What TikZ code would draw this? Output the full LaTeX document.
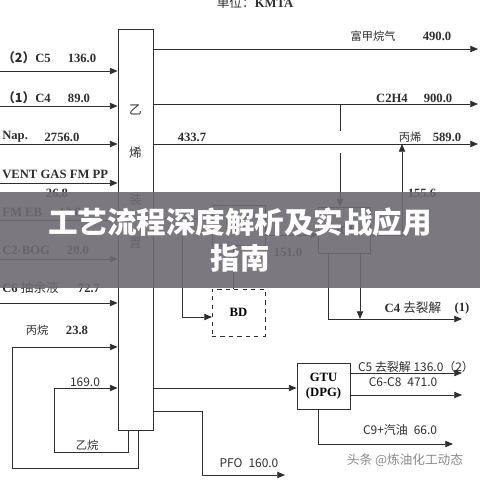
\documentclass[tikz,border=0pt]{standalone}
\usepackage{fontspec}
\setmainfont{Liberation Serif}
\newfontfamily\cjk{Noto Sans CJK SC}
\usepackage{tikz}
\usetikzlibrary{arrows.meta, positioning}
\definecolor{linegray}{HTML}{2e2e2e}
\definecolor{bannergray}{HTML}{6e6a72}
\definecolor{markgray}{HTML}{8a8a8a}

\tikzset{
  flow/.style={draw=linegray, line width=0.6pt, -{Triangle[length=5.5pt,width=4.5pt]}},
  pipe/.style={draw=linegray, line width=0.6pt},
  unitbox/.style={draw=linegray, line width=0.6pt, inner sep=0pt, align=center,
    font=\bfseries\fontsize{9}{10.5}\selectfont},
  lbl/.style={inner sep=0pt, text=linegray, font=\bfseries\fontsize{9}{10}\selectfont},
  zh/.style={inner sep=0pt, text=linegray, font=\cjk\fontsize{8}{9}\selectfont},
  num/.style={inner sep=0pt, text=linegray, font=\cjk\fontsize{8.5}{9}\selectfont}
}

\begin{document}
\begin{tikzpicture}[x=0.025cm, y=-0.025cm]
    \useasboundingbox (0,0) rectangle (480,480);
    \fill[white] (0,0) rectangle (480,480);

    % title
    \node[lbl] (unit) at (255,3) {{\cjk\mdseries 单位：}KMTA};

    % ethylene plant
    \node[draw=linegray, line width=0.6pt, minimum width=0.875cm, minimum height=10.025cm, inner sep=0pt] (plant) at (135.5,229.5) {};
    \foreach \cy/\ch [count=\k] in {110/乙, 153/烯, 200/装, 243/置}
        \node[zh, font=\cjk\fontsize{9}{9}\selectfont] (plantch\k) at (135.5,\cy) {\ch};

    % feeds from the left
    \foreach \ay/\ly/\nm/\vx/\vy/\val/\i in {
        71/58/{{\cjk （2）}C5}/82/58/136.0/a,
        106/98/{{\cjk （1）}C4}/79/98/89.0/b,
        144/137/{Nap.}/62/137/2756.0/c,
        183/174/{VENT GAS FM PP}/57/193/26.8/d,
        220/212/{FM EB}/70/212/12.8/e,
        259/250/{C2-BOG}/78/250/20.0/f,
        303/288/{C6 {\cjk\mdseries 抽余液}}/89/288/72.7/g} {
        \node[lbl, anchor=west] (feed\i) at (2,\ly) {\nm};
        \node[lbl] (feedval\i) at (\vx,\vy) {\val};
        \coordinate (src\i) at (0,\ay);
        \draw[flow] (src\i) -- (src\i -| plant.west);
    }

    % recycle loops at the bottom
    \node[zh] (propane) at (37,330) {丙烷};
    \node[lbl] (propaneval) at (77,330) {23.8};
    \coordinate (pr1) at (138,468);
    \coordinate (pr2) at (12,347);
    \draw[flow] (pr1 |- plant.south) -- (pr1) -| (pr2) -- (pr2 -| plant.west);
    \node[num] (ethaneval) at (85,382) {169.0};
    \node[zh] (ethane) at (87,445) {乙烷};
    \coordinate (et1) at (128,452);
    \coordinate (et2) at (54,388);
    \draw[flow] (et1 |- plant.south) -- (et1) -| (et2) -- (et2 -| plant.west);

    % products to the right
    \coordinate (outa) at (478,49);
    \coordinate (outb) at (478,104);
    \coordinate (outc) at (478,144);
    \draw[flow] (outa -| plant.east) -- (outa);
    \draw[flow] (outb -| plant.east) -- (outb);
    \draw[flow] (outc -| plant.east) -- (outc);
    \node[zh] (methane) at (373,36) {富甲烷气};
    \node[lbl] (methaneval) at (437,36) {490.0};
    \node[lbl] (ethylene) at (392,98) {C2H4};
    \node[lbl] (ethyleneval) at (438,98) {900.0};
    \node[lbl] (propyleneraw) at (192,137) {433.7};
    \node[zh] (propylene) at (410,137) {丙烯};
    \node[lbl] (propyleneval) at (447,137) {589.0};

    % C4 route
    \node[unitbox, minimum width=1.325cm, minimum height=1.0cm] (shu) at (238.5,225) {SHU};
    \node[unitbox, dashed, minimum width=1.325cm, minimum height=1.175cm] (bd) at (238.5,312.5) {BD};
    \node[unitbox, minimum width=1.3cm, minimum height=1.15cm] (ocu) at (344,230) {OCU};
    \coordinate (c4out) at (153,218);
    \coordinate (bdtap) at (182,218);
    \coordinate (bdin) at (212,317);
    \coordinate (bdtop) at (233,245);
    \draw[flow] (c4out) -- (c4out -| shu.west);
    \draw[flow] (bdtap) |- (bdin);
    \draw[pipe] (bdtop) -- (bdtop |- bd.north);
    \coordinate (raf) at (265,235);
    \draw[flow] (raf) -- (raf -| ocu.west);
    \node[lbl] (rafval) at (288,252) {151.0};

    % ethylene to OCU, hopping over the propylene line
    \coordinate (eta) at (340,104);
    \coordinate (etb) at (340,131);
    \coordinate (etc) at (340,153);
    \draw[pipe] (eta) -- (etb);
    \draw[flow] (etc) -- (etc |- ocu.north);

    % propylene from OCU
    \coordinate (pp1) at (370,235);
    \coordinate (pp2) at (402,235);
    \draw[flow] (pp1) -- (pp2) -- (pp2 |- outc);
    \node[lbl] (ppval) at (422,193) {155.6};

    % C4 to cracking
    \coordinate (cr1) at (328,253);
    \coordinate (cr2) at (462,319);
    \coordinate (cr3) at (360,253);
    \draw[flow] (cr1) |- (cr2);
    \draw[flow] (cr3) -- (cr3 |- cr2);
    \node[lbl] (crack) at (413,308) {C4 {\cjk\mdseries 去裂解}};
    \node[lbl] (crackno) at (462,308) {(1)};

    % pyrolysis gasoline
    \node[unitbox, minimum width=1.325cm, minimum height=1.15cm] (gtu) at (323.5,386) {GTU\\(DPG)};
    \coordinate (pg) at (153,388);
    \draw[flow] (pg) -- (pg -| gtu.west);
    \coordinate (g1) at (350,373);
    \coordinate (g2) at (350,395);
    \coordinate (g3) at (318,444);
    \draw[flow] (g1) -- (462,373);
    \draw[flow] (g2) -- (462,395);
    \draw[flow] (g3 |- gtu.south) -- (g3) -- (453,444);
    \node[num] (c5) at (416,367) {C5 去裂解 136.0（2）};
    \node[num] (c6) at (403,382) {C6-C8\enspace 471.0};
    \node[num] (c9) at (400,430) {C9+汽油\enspace 66.0};

    % fuel oil
    \coordinate (pf1) at (153,411);
    \coordinate (pf2) at (202,475);
    \draw[flow] (pf1) -| (pf2) -- (285,475);
    \node[num] (pfo) at (249,463) {PFO\enspace 160.0};

    % banner and mark
    \fill[bannergray, opacity=0.9] (0,192) rectangle (480,288);
    \node[inner sep=0pt, text=white, font=\cjk\bfseries\fontsize{21}{24}\selectfont] (title) at (240,222) {工艺流程深度解析及实战应用};
    \node[inner sep=0pt, text=white, font=\cjk\bfseries\fontsize{21}{24}\selectfont] (title2) at (240,258) {指南};
    \node[inner sep=0pt, text=markgray, font=\cjk\fontsize{9}{10}\selectfont] (mark) at (405,460) {头条 @炼油化工动态};
\end{tikzpicture}
\end{document}
